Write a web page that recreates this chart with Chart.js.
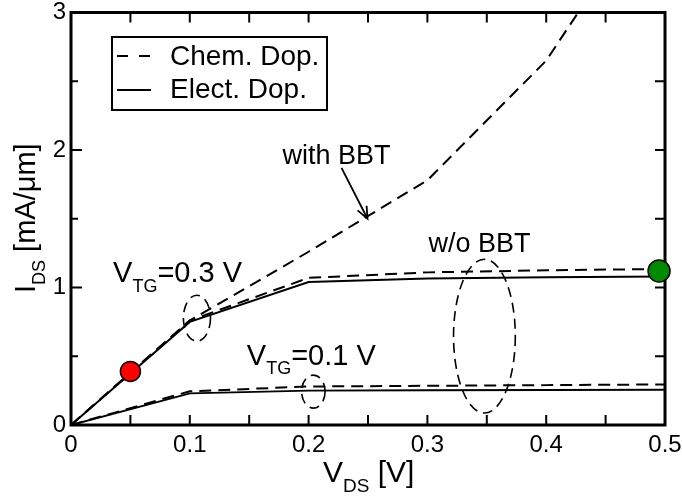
<!DOCTYPE html>
<html lang="en">
<head>
<meta charset="UTF-8">
<title>I-V characteristics</title>
<style>
    body { margin: 0; background: #fff; }
    .chart-container { width: 682px; height: 496px; }
</style>
<script src="https://cdn.jsdelivr.net/npm/chart.js"></script>
</head>
<body>
<div class="chart-container">
    <canvas id="ivChart" width="682" height="496"></canvas>
</div>
<script>
    // drain voltage sweep and drain currents (mA/um)
    const vds = [0, 0.1, 0.2, 0.3, 0.4, 0.5];
    const chemWithBBT = [0, 0.76, 1.26, 1.78, 2.65, 3.95];
    const chemNoBBT = [0, 0.76, 1.07, 1.11, 1.125, 1.135];
    const electVtg03 = [0, 0.75, 1.04, 1.065, 1.075, 1.08];
    const chemVtg01 = [0, 0.245, 0.28, 0.285, 0.29, 0.295];
    const electVtg01 = [0, 0.23, 0.25, 0.253, 0.255, 0.256];

    // highlighted bias points
    const markerVds = [0.05, 0.495];
    const markerIds = [0.39, 1.12];
    const markerColors = ['#ff0000', '#008a00'];

    const xTicks = [0, 0.1, 0.2, 0.3, 0.4, 0.5];
    const yTicks = [0, 1, 2, 3];

    const FONT = '"Liberation Sans", Arial, Helvetica, sans-serif';

    function toPoints(ys) {
        return vds.map((x, i) => ({ x: x, y: ys[i] }));
    }

    function lineSet(label, ys, dashed) {
        return {
            label: label,
            data: toPoints(ys),
            showLine: true,
            borderColor: '#000',
            borderWidth: 2,
            borderDash: dashed ? [12, 7] : [],
            pointRadius: 0,
            tension: 0,
            fill: false
        };
    }

    // text with a subscript after the first part, e.g. V_TG=0.3 V
    function subText(ctx, x, y, main, sub, rest, size, subSize) {
        ctx.font = size + 'px ' + FONT;
        ctx.fillText(main, x, y);
        let w = ctx.measureText(main).width;
        ctx.font = subSize + 'px ' + FONT;
        ctx.fillText(sub, x + w, y + size * 0.33);
        w += ctx.measureText(sub).width;
        ctx.font = size + 'px ' + FONT;
        ctx.fillText(rest, x + w, y);
    }

    // boxed frame with inward ticks on all four sides
    const framePlugin = {
        id: 'frame',
        beforeDatasetsDraw(chart) {
            const { ctx, chartArea: a, scales: { x, y } } = chart;
            ctx.save();
            ctx.strokeStyle = '#000';
            ctx.lineWidth = 2;
            ctx.beginPath();
            for (let i = 0; i <= 10; i++) {
                const px = x.getPixelForValue(i * 0.05);
                ctx.moveTo(px, a.bottom); ctx.lineTo(px, a.bottom - 10);
                ctx.moveTo(px, a.top); ctx.lineTo(px, a.top + 10);
            }
            for (let i = 0; i <= 6; i++) {
                const py = y.getPixelForValue(i * 0.5);
                const len = i % 2 === 0 ? 11 : 7;
                ctx.moveTo(a.left, py); ctx.lineTo(a.left + len, py);
                ctx.moveTo(a.right, py); ctx.lineTo(a.right - 10, py);
            }
            ctx.stroke();
            ctx.lineWidth = 3;
            ctx.strokeRect(a.left, a.top, a.right - a.left, a.bottom - a.top);
            ctx.restore();
        }
    };

    // dashed ellipses grouping curves, in data units
    const ellipses = [
        { x: 0.106, y: 0.777, rx: 0.0114, ry: 0.167 },
        { x: 0.204, y: 0.243, rx: 0.0099, ry: 0.12 },
        { x: 0.348, y: 0.646, rx: 0.026, ry: 0.559 }
    ];

    const notesPlugin = {
        id: 'notes',
        afterDatasetsDraw(chart) {
            const { ctx, scales: { x, y } } = chart;
            ctx.save();
            ctx.strokeStyle = '#000';
            ctx.fillStyle = '#000';

            ctx.lineWidth = 1.6;
            ctx.setLineDash([10, 6]);
            ellipses.forEach(e => {
                const cx = x.getPixelForValue(e.x);
                const cy = y.getPixelForValue(e.y);
                const rx = x.getPixelForValue(e.x + e.rx) - cx;
                const ry = cy - y.getPixelForValue(e.y + e.ry);
                ctx.beginPath();
                ctx.ellipse(cx, cy, rx, ry, 0, 0, Math.PI * 2);
                ctx.stroke();
            });
            ctx.setLineDash([]);

            // arrow pointing at the BBT curve
            const x0 = x.getPixelForValue(0.2277), y0 = y.getPixelForValue(1.87);
            const x1 = x.getPixelForValue(0.2496), y1 = y.getPixelForValue(1.50);
            const ang = Math.atan2(y1 - y0, x1 - x0);
            ctx.lineWidth = 1.8;
            ctx.beginPath();
            ctx.moveTo(x0, y0); ctx.lineTo(x1, y1);
            ctx.moveTo(x1 - 13 * Math.cos(ang - 0.4), y1 - 13 * Math.sin(ang - 0.4));
            ctx.lineTo(x1, y1);
            ctx.lineTo(x1 - 13 * Math.cos(ang + 0.4), y1 - 13 * Math.sin(ang + 0.4));
            ctx.stroke();

            ctx.textBaseline = 'alphabetic';
            ctx.textAlign = 'left';
            ctx.font = '27px ' + FONT;
            ctx.fillText('with BBT', x.getPixelForValue(0.178), y.getPixelForValue(1.90));
            ctx.fillText('w/o BBT', x.getPixelForValue(0.301), y.getPixelForValue(1.256));
            subText(ctx, x.getPixelForValue(0.0354), y.getPixelForValue(1.04), 'V', 'TG', '=0.3 V', 29, 18);
            subText(ctx, x.getPixelForValue(0.148), y.getPixelForValue(0.44), 'V', 'TG', '=0.1 V', 29, 18);

            // legend box
            ctx.lineWidth = 2;
            ctx.strokeRect(112, 37, 215, 73);
            ctx.beginPath();
            ctx.moveTo(117, 56); ctx.lineTo(128, 56);
            ctx.moveTo(139, 56); ctx.lineTo(150, 56);
            ctx.moveTo(117, 90); ctx.lineTo(151, 90);
            ctx.stroke();
            ctx.font = '28px ' + FONT;
            ctx.fillText('Chem. Dop.', 170, 65);
            ctx.fillText('Elect. Dop.', 170, 98);
            ctx.restore();
        },
        afterDraw(chart) {
            const { ctx } = chart;
            ctx.save();
            ctx.fillStyle = '#000';
            ctx.textBaseline = 'alphabetic';
            ctx.textAlign = 'left';
            subText(ctx, 323, 482, 'V', 'DS', ' [V]', 30, 19);
            ctx.translate(35, 293);
            ctx.rotate(-Math.PI / 2);
            subText(ctx, 0, 0, 'I', 'DS', ' [mA/\u03bcm]', 29, 18);
            ctx.restore();
        }
    };

    const ctx = document.getElementById('ivChart').getContext('2d');
    new Chart(ctx, {
        type: 'scatter',
        data: {
            datasets: [
                {
                    label: 'bias points',
                    data: markerVds.map((v, i) => ({ x: v, y: markerIds[i] })),
                    pointRadius: [10, 11],
                    pointBackgroundColor: markerColors,
                    pointBorderColor: '#000',
                    pointBorderWidth: 1.5,
                    showLine: false,
                    clip: false
                },
                lineSet('Chem. Dop. with BBT', chemWithBBT, true),
                lineSet('Chem. Dop. w/o BBT', chemNoBBT, true),
                lineSet('Elect. Dop. VTG=0.3', electVtg03, false),
                lineSet('Chem. Dop. VTG=0.1', chemVtg01, true),
                lineSet('Elect. Dop. VTG=0.1', electVtg01, false)
            ]
        },
        options: {
            responsive: false,
            animation: false,
            layout: { padding: { top: 12, right: 17, left: 0, bottom: 0 } },
            plugins: {
                legend: { display: false },
                tooltip: { enabled: false }
            },
            scales: {
                x: {
                    type: 'linear',
                    min: 0,
                    max: 0.5,
                    grid: { display: false, drawTicks: false },
                    border: { display: false },
                    afterBuildTicks: s => { s.ticks = xTicks.map(v => ({ value: v })); },
                    afterFit: s => { s.height = 71; s.paddingLeft = 0; s.paddingRight = 0; },
                    ticks: {
                        color: '#000',
                        padding: 6,
                        maxRotation: 0,
                        font: { family: FONT, size: 24 },
                        callback: v => String(v)
                    }
                },
                y: {
                    type: 'linear',
                    min: 0,
                    max: 3,
                    grid: { display: false, drawTicks: false },
                    border: { display: false },
                    afterBuildTicks: s => { s.ticks = yTicks.map(v => ({ value: v })); },
                    afterFit: s => { s.width = 71; s.paddingTop = 0; s.paddingBottom = 0; },
                    ticks: {
                        color: '#000',
                        padding: 5,
                        font: { family: FONT, size: 24 },
                        callback: v => String(v)
                    }
                }
            }
        },
        plugins: [framePlugin, notesPlugin]
    });
</script>
</body>
</html>
